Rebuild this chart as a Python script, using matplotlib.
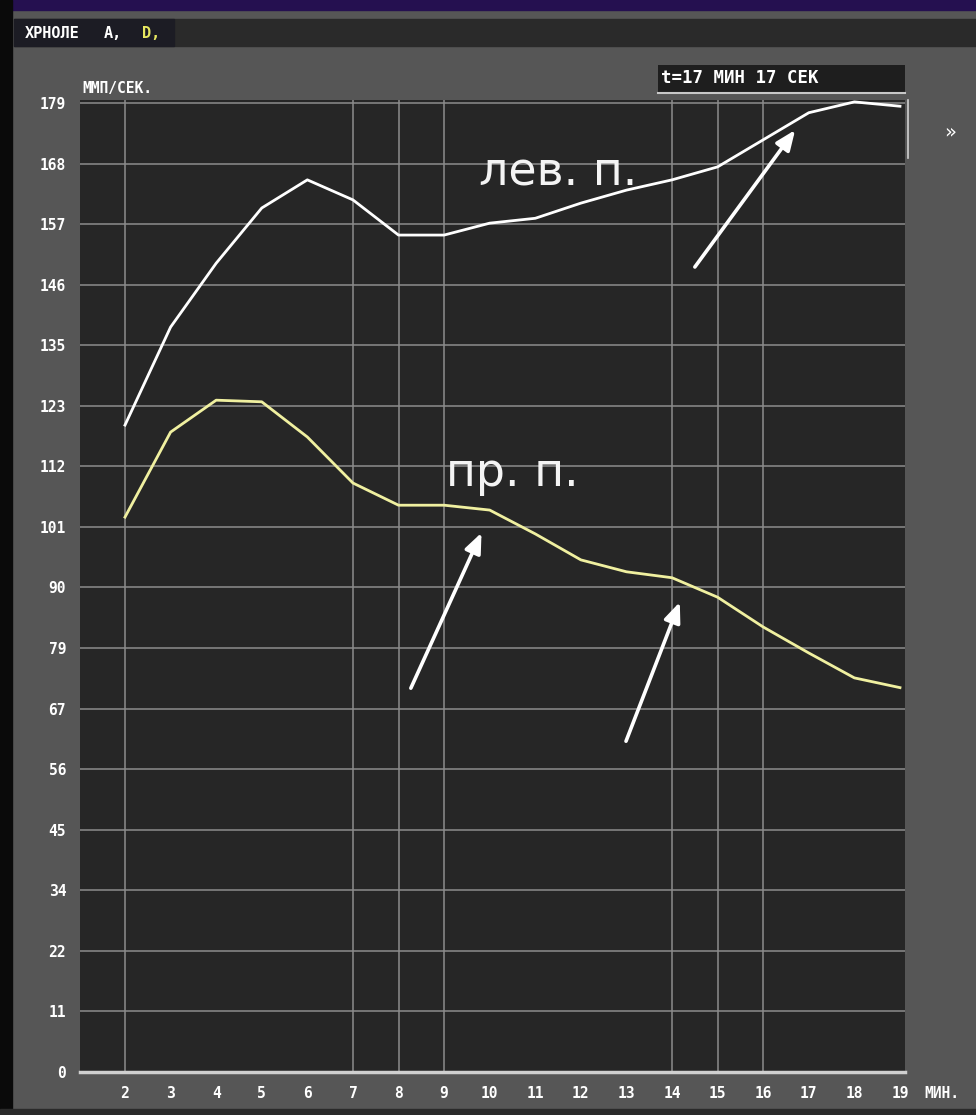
import matplotlib
matplotlib.use("Agg")
import matplotlib.pyplot as plt
from matplotlib.patches import Rectangle

# данные
minutes = [2, 3, 4, 5, 6, 7, 8, 9, 10, 11, 12, 13, 14, 15, 16, 17, 18, 19]
left_vals = [119.5, 137.6, 149.4, 159.6, 164.8, 161.1, 154.6, 154.6, 156.8,
             157.7, 160.5, 162.9, 164.8, 167.2, 172.2, 177.2, 179.2, 178.4]
right_vals = [102.5, 118.2, 124.1, 123.8, 117.3, 108.8, 104.7, 104.7, 103.8,
              99.4, 94.6, 92.4, 91.3, 87.7, 82.2, 77.4, 72.8, 71.0]

y_tick_labels = ["0", "11", "22", "34", "45", "56", "67", "79", "90", "101",
                 "112", "123", "135", "146", "157", "168", "179"]
y_max = 179
v_grid = [2, 7, 8, 9, 14, 15, 16]

# стрелки: (хвост x, хвост y, острие x, острие y)
arrows = [(14.50, 148.7, 16.70, 174.0),
          (8.27, 70.9, 9.82, 99.6),
          (12.99, 61.1, 14.17, 86.8)]

mono = "DejaVu Sans Mono"
W, H = 976, 1115
fig = plt.figure(figsize=(W / 100, H / 100), dpi=100)
fig.patch.set_facecolor("#565656")

# фон окна (пиксельные координаты)
bg = fig.add_axes([0, 0, 1, 1], zorder=0)
bg.set_xlim(0, W)
bg.set_ylim(H, 0)
bg.axis("off")
bg.add_patch(Rectangle((0, 0), W, 10, color="#251050"))
bg.add_patch(Rectangle((0, 0), 12, H, color="#0a0a0a"))
bg.add_patch(Rectangle((14, 19), W - 14, 27, color="#2a2a2a"))
bg.add_patch(Rectangle((14, 19), 160, 27, color="#1c1c24"))
bg.add_patch(Rectangle((0, H - 6), W, 6, color="#2a2a2a"))
bg.text(25, 33, "ХРНОЛЕ", color="white", family=mono, weight="bold",
        fontsize=11, va="center")
bg.text(104, 33, "А,", color="white", family=mono, weight="bold",
        fontsize=11, va="center")
bg.text(142, 33, "D,", color="#e8e860", family=mono, weight="bold",
        fontsize=11, va="center")
bg.text(82, 89, "ММП/СЕК.", color="white", family=mono, weight="bold",
        fontsize=10.5, va="center")
bg.add_patch(Rectangle((658, 65), 247, 27, facecolor="#1e1e1e",
                       edgecolor="none"))
bg.plot([658, 905], [93, 93], color="#c8c8c8", lw=1.5)
bg.text(661, 78, "t=17 МИН 17 СЕК", color="white", family=mono,
        weight="bold", fontsize=12.5, va="center")
bg.text(950, 132, "»", color="white", fontsize=14, ha="center", va="center")
bg.plot([908, 908], [100, 158], color="#d0d0d0", lw=1.2)
bg.text(942, 1093, "МИН.", color="white", family=mono, weight="bold",
        fontsize=10.5, ha="center", va="center")

# основная область графика
ax = fig.add_axes([80 / W, 1 - 1072 / H, 825 / W, 972 / H], zorder=1)
ax.set_facecolor("#262626")
ax.set_xlim(1.013, 19.11)
ax.set_ylim(0, 179.55)

y_ticks = [i * y_max / 16 for i in range(17)]
for yv in y_ticks[1:]:
    ax.axhline(yv, color="#8c8c8c", lw=1.1, zorder=1)
for xv in v_grid:
    ax.axvline(xv, color="#8c8c8c", lw=1.1, zorder=1)
ax.axhline(0, color="#d0d0d0", lw=2.5, zorder=2, clip_on=False)

ax.plot(minutes, left_vals, color="white", lw=2.0, zorder=3)
ax.plot(minutes, right_vals, color="#f0f0a0", lw=2.0, zorder=3)

for x0, y0, x1, y1 in arrows:
    ax.annotate("", xy=(x1, y1), xytext=(x0, y0), zorder=4,
                arrowprops=dict(arrowstyle="-|>,head_length=1.2,head_width=0.5",
                                color="white", lw=2.6, shrinkA=0, shrinkB=0))

ax.text(11.5, 166, "лев. п.", color="#f4f4f4", fontsize=33,
        ha="center", va="center", zorder=5)
ax.text(10.5, 110.5, "пр. п.", color="#f4f4f4", fontsize=33,
        ha="center", va="center", zorder=5)

ax.set_yticks(y_ticks)
ax.set_yticklabels(y_tick_labels)
ax.set_xticks(minutes)
ax.set_xticklabels([str(m) for m in minutes])
ax.tick_params(length=0, colors="white", labelsize=10.5, pad=10)
for lab in ax.get_xticklabels() + ax.get_yticklabels():
    lab.set_family(mono)
    lab.set_weight("bold")
for s in ax.spines.values():
    s.set_visible(False)

fig.savefig("out.png", dpi=100, facecolor=fig.get_facecolor())
